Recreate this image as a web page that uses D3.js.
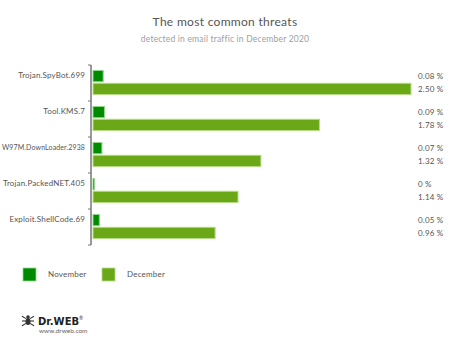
<!DOCTYPE html>
<html>
<head>
<meta charset="utf-8">
<script src="https://cdn.jsdelivr.net/npm/d3@7"></script>
<style>
  html, body { margin: 0; padding: 0; background: #fff; }
  svg { display: block; }
</style>
</head>
<body>
<svg id="chart" width="450" height="344"></svg>
<script>
// Threat names and shares (% of detected threats in email traffic)
const threats = ["Trojan.SpyBot.699", "Tool.KMS.7", "W97M.DownLoader.2938", "Trojan.PackedNET.405", "Exploit.ShellCode.69"];
const november = [0.08, 0.09, 0.07, 0, 0.05];
const december = [2.50, 1.78, 1.32, 1.14, 0.96];
const seriesNames = ["November", "December"];
const seriesColors = ["#008a00", "#6aa818"];
const valueLabels = [
  ["0.08 %", "0.09 %", "0.07 %", "0 %", "0.05 %"],
  ["2.50 %", "1.78 %", "1.32 %", "1.14 %", "0.96 %"]
];

const svg = d3.select("#chart");
const font = "Lato, 'Noto Sans', sans-serif";

// Titles
svg.append("text").attr("x", 225).attr("y", 26).attr("text-anchor", "middle")
  .attr("font-family", font).attr("font-size", 12).attr("fill", "#555")
  .attr("letter-spacing", 0.3)
  .text("The most common threats");
svg.append("text").attr("x", 225).attr("y", 42).attr("text-anchor", "middle")
  .attr("font-family", font).attr("font-size", 8.5).attr("fill", "#a0a0a0")
  .attr("letter-spacing", 0.2)
  .text("detected in email traffic in December 2020");

// Scales
const x = d3.scaleLinear().domain([0, 2.5]).range([93, 411]);
const y = d3.scaleBand().domain(threats).range([65, 245]);
const inner = d3.scaleBand().domain([0, 1]).range([5.5, 29.5]).paddingInner(0.12);

// Category axis line and ticks
const axisG = svg.append("g").attr("transform", "translate(91,0)");
axisG.append("line").attr("x1", 0).attr("x2", 0).attr("y1", 65).attr("y2", 245)
  .attr("stroke", "#777").attr("stroke-width", 1.5);
const tickYs = [65].concat(threats.map(t => y(t) + y.bandwidth()));
axisG.selectAll("line.tick").data(tickYs).join("line").attr("class", "tick")
  .attr("x1", -3).attr("x2", 0).attr("y1", d => d).attr("y2", d => d)
  .attr("stroke", "#777").attr("stroke-width", 1);

// Category labels, shrunk to fit the space left of the axis
svg.append("g").selectAll("text").data(threats).join("text")
  .attr("x", 85).attr("y", d => y(d) + 13)
  .attr("text-anchor", "end").attr("font-family", font).attr("font-size", 8)
  .attr("letter-spacing", 0.15)
  .attr("fill", "#555").text(d => d)
  .each(function () {
    const w = this.getComputedTextLength();
    if (w > 83) d3.select(this).attr("textLength", 83).attr("lengthAdjust", "spacingAndGlyphs");
  });

// Bars and value labels
const series = [november, december];
series.forEach((vals, si) => {
  svg.append("g").selectAll("rect").data(vals).join("rect")
    .attr("x", x(0))
    .attr("y", (d, i) => y(threats[i]) + inner(si))
    .attr("width", d => Math.max(x(d) - x(0), 1.5))
    .attr("height", inner.bandwidth())
    .attr("fill", seriesColors[si])
    .attr("stroke", si === 0 ? "#8fd68a" : "#b5dd85")
    .attr("stroke-width", 1);
  svg.append("g").selectAll("text").data(vals).join("text")
    .attr("x", 418)
    .attr("y", (d, i) => y(threats[i]) + inner(si) + inner.bandwidth() / 2 + 3)
    .attr("font-family", font).attr("font-size", 8).attr("fill", "#555")
    .attr("letter-spacing", 0.2)
    .text((d, i) => valueLabels[si][i]);
});

// Legend
const legend = svg.append("g");
const legendX = [23, 102];
seriesNames.forEach((name, i) => {
  legend.append("rect").attr("x", legendX[i]).attr("y", 268).attr("width", 13).attr("height", 13)
    .attr("fill", seriesColors[i]).attr("stroke", i === 0 ? "#8fd68a" : "#b5dd85").attr("stroke-width", 0.8);
  legend.append("text").attr("x", legendX[i] + 25).attr("y", 277)
    .attr("font-family", font).attr("font-size", 8).attr("fill", "#555")
    .attr("letter-spacing", 0.2).text(name);
});

// Brand mark
const logo = svg.append("g").attr("transform", "translate(28,321)");
logo.append("ellipse").attr("cx", 0).attr("cy", 0.5).attr("rx", 2.5).attr("ry", 3.5).attr("fill", "#333");
logo.append("circle").attr("cx", 0).attr("cy", -4).attr("r", 1.8).attr("fill", "#333");
[-1, 1].forEach(s => {
  [-3, 0, 3].forEach(dy => {
    logo.append("line").attr("x1", s * 2).attr("y1", dy * 0.8).attr("x2", s * 6).attr("y2", dy * 1.6)
      .attr("stroke", "#333").attr("stroke-width", 1.1);
  });
});
svg.append("text").attr("x", 38).attr("y", 325)
  .attr("font-family", "'DejaVu Sans', sans-serif").attr("font-weight", "bold").attr("font-size", 10)
  .attr("fill", "#222").text("Dr.WEB");
svg.append("text").attr("x", 79).attr("y", 320)
  .attr("font-family", font).attr("font-size", 5).attr("fill", "#333").text("®");
svg.append("text").attr("x", 39).attr("y", 333)
  .attr("font-family", font).attr("font-size", 6.5).attr("fill", "#666").text("www.drweb.com");
</script>
</body>
</html>
